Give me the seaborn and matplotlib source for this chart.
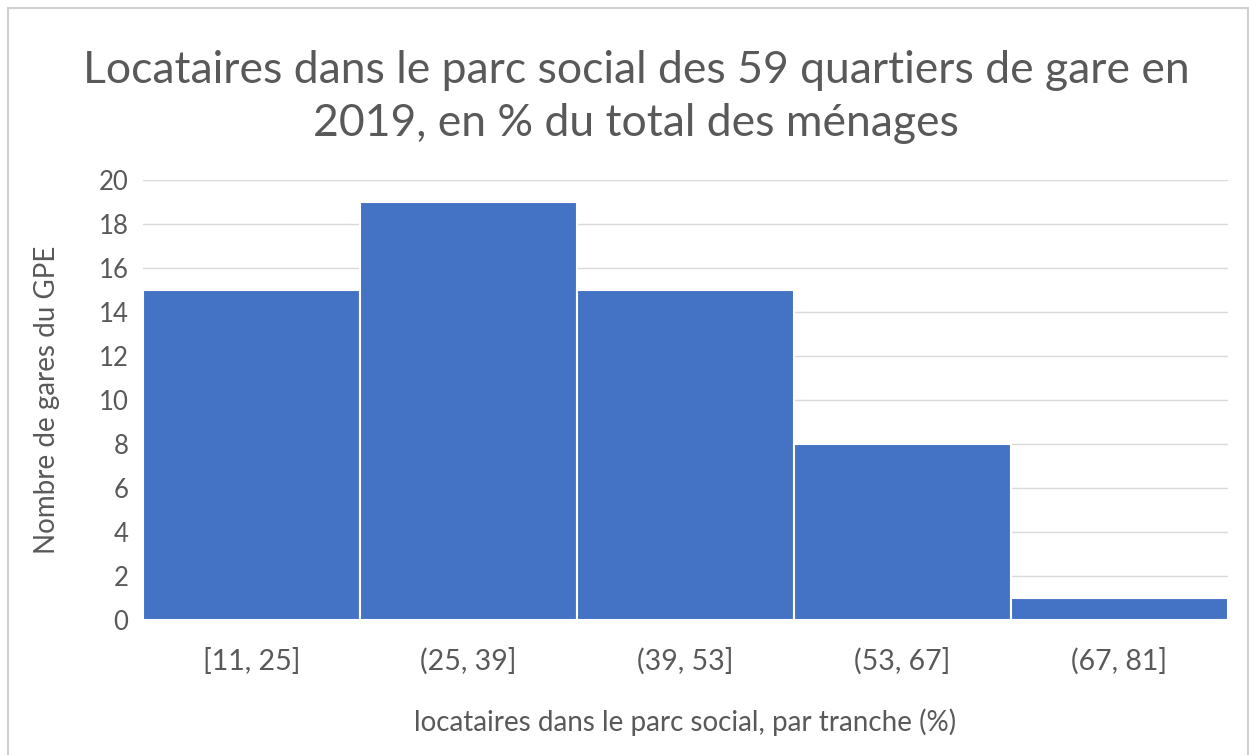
import matplotlib
matplotlib.use("Agg")
import matplotlib.pyplot as plt
from matplotlib.patches import Rectangle
import seaborn as sns
import pandas as pd

# Histogram bins of social-housing tenants share, and number of stations per bin
tranches = ["[11, 25]", "(25, 39]", "(39, 53]", "(53, 67]", "(67, 81]"]
nb_gares = [15, 19, 15, 8, 1]
y_ticks = [0, 2, 4, 6, 8, 10, 12, 14, 16, 18, 20]

title = "Locataires dans le parc social des 59 quartiers de gare en\n2019, en % du total des ménages"
xlabel = "locataires dans le parc social, par tranche (%)"
ylabel = "Nombre de gares du GPE"

sns.set_theme(style="white")
plt.rcParams["font.family"] = ["Lato", "DejaVu Sans"]

TEXT = "#595959"
BAR = "#4472C4"

W, H, DPI = 1249, 755, 100
fig = plt.figure(figsize=(W / DPI, H / DPI), dpi=DPI)
fig.patch.set_facecolor("white")

ax = fig.add_axes([143 / W, 1 - 620 / H, (1228 - 143) / W, (620 - 180) / H])

df = pd.DataFrame({"tranche": tranches, "gares": nb_gares})
sns.barplot(data=df, x="tranche", y="gares", ax=ax, color=BAR, saturation=1,
            width=1.0, edgecolor="white", linewidth=1.5, zorder=2)

ax.set_xlim(-0.5, len(tranches) - 0.5)
ax.set_ylim(0, 20)
ax.set_yticks(y_ticks)
ax.yaxis.grid(True, color="#d9d9d9", linewidth=1, zorder=0)
ax.xaxis.grid(False)
ax.set_axisbelow(True)
for s in ax.spines.values():
    s.set_visible(False)

ax.tick_params(axis="y", length=0, pad=10.5, labelsize=18.5, labelcolor=TEXT)
ax.tick_params(axis="x", length=0, pad=20, labelsize=20.5, labelcolor=TEXT)
ax.set_xlabel(xlabel, fontsize=20, color=TEXT, labelpad=24)
ax.set_ylabel(ylabel, fontsize=20, color=TEXT, labelpad=12)
ax.yaxis.set_label_coords(-(143 - 60) / (1228 - 143), 0.5)

fig.text(636 / W, 1 - 97 / H, title, ha="center", va="center", fontsize=32,
         color=TEXT, linespacing=1.35)

# thin outer frame around the chart area
fig.patches.append(Rectangle((8 / W, -0.01), (W - 9) / W, 1 - 8 / H + 0.01,
                             transform=fig.transFigure, fill=False,
                             edgecolor="#d0d0d0", linewidth=1.5))

fig.savefig("out.png", dpi=DPI)
